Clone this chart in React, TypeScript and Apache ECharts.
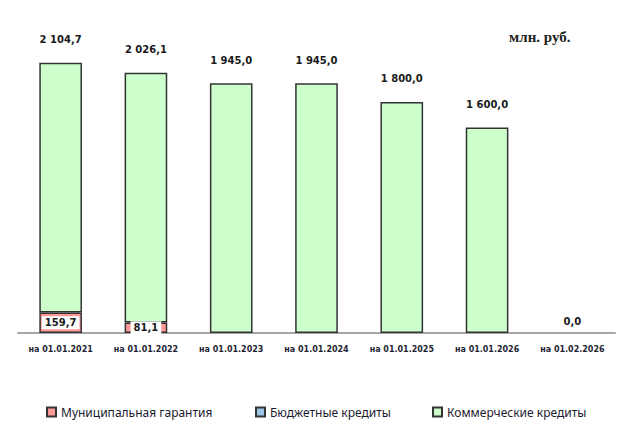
import { useEffect, useRef } from 'react'
import * as echarts from 'echarts'

const categories = [
  'на 01.01.2021',
  'на 01.01.2022',
  'на 01.01.2023',
  'на 01.01.2024',
  'на 01.01.2025',
  'на 01.01.2026',
  'на 01.02.2026'
]
const guarantee = [159.7, 81.1, null, null, null, null, null]
const budget = [null, null, null, null, null, null, null]
const commercial = [1945.0, 1945.0, 1945.0, 1945.0, 1800.0, 1600.0, null]

const names = ['Муниципальная гарантия', 'Бюджетные кредиты', 'Коммерческие кредиты']
const colors = { guarantee: '#ff9999', budget: '#9dc3e6', commercial: '#ccffcc' }

const fmt = (v: number) => {
  const [int, dec] = v.toFixed(1).split('.')
  return int.replace(/\B(?=(\d{3})+(?!\d))/g, ' ') + ',' + dec
}

const totals = categories.map((_, i) => (guarantee[i] ?? 0) + (budget[i] ?? 0) + (commercial[i] ?? 0))

export default function App() {
  const ref = useRef<HTMLDivElement | null>(null)

  useEffect(() => {
    if (!ref.current) return
    const chart = echarts.init(ref.current, null, { renderer: 'svg' })

    const border = { borderColor: '#333', borderWidth: 1.5 }
    const legendText = { fontFamily: 'Noto Sans', fontSize: 12, color: '#1a1a2e' }
    const legendAt = (name: string, left: number) => ({
      data: [name],
      left,
      top: 401,
      itemWidth: 9,
      itemHeight: 9,
      icon: 'rect',
      selectedMode: false,
      textStyle: legendText
    })

    chart.setOption({
      animation: false,
      backgroundColor: '#fff',
      grid: { left: 18, right: 22, top: 12, bottom: 114 },
      legend: [legendAt(names[0], 41), legendAt(names[1], 250), legendAt(names[2], 427)],
      graphic: [
        {
          type: 'text',
          left: 509,
          top: 29,
          style: {
            text: 'млн. руб.',
            font: 'bold 15px "Liberation Serif"',
            fill: '#222'
          }
        }
      ],
      xAxis: {
        type: 'category',
        data: categories,
        axisLine: { lineStyle: { color: '#a6a6a6', width: 2 } },
        axisTick: { show: false },
        axisLabel: {
          interval: 0,
          margin: 12,
          fontFamily: 'DejaVu Sans',
          fontWeight: 'bold',
          fontSize: 8,
          color: '#1f1f33'
        }
      },
      yAxis: { type: 'value', min: 0, max: 2500, show: false, splitLine: { show: false } },
      series: [
        {
          name: names[0],
          type: 'bar',
          stack: 'debt',
          barWidth: '50%',
          barGap: '-100%',
          data: guarantee,
          itemStyle: { color: colors.guarantee, ...border },
          label: {
            show: true,
            position: 'inside',
            formatter: (p: any) => fmt(p.value),
            backgroundColor: '#fff',
            padding: [2, 3, 1, 3],
            fontFamily: 'DejaVu Sans',
            fontWeight: 'bold',
            fontSize: 10,
            color: '#1a1a1a'
          }
        },
        {
          name: names[1],
          type: 'bar',
          stack: 'debt',
          barWidth: '50%',
          barGap: '-100%',
          data: budget,
          itemStyle: { color: colors.budget, ...border }
        },
        {
          name: names[2],
          type: 'bar',
          stack: 'debt',
          barWidth: '50%',
          barGap: '-100%',
          data: commercial,
          itemStyle: { color: colors.commercial, ...border }
        },
        {
          name: 'total',
          type: 'bar',
          barWidth: '50%',
          barGap: '-100%',
          silent: true,
          z: 1,
          itemStyle: { color: 'transparent' },
          data: totals.map((v) => ({
            value: v,
            label: { distance: v === 0 ? 7 : 18 }
          })),
          label: {
            show: true,
            position: 'top',
            formatter: (p: any) => fmt(p.value),
            fontFamily: 'DejaVu Sans',
            fontWeight: 'bold',
            fontSize: 10,
            color: '#1a1a1a'
          }
        }
      ]
    })

    return () => chart.dispose()
  }, [])

  return (
    <div
      ref={ref}
      style={{ position: 'absolute', left: 0, top: 0, width: 637, height: 447 }}
    />
  )
}
